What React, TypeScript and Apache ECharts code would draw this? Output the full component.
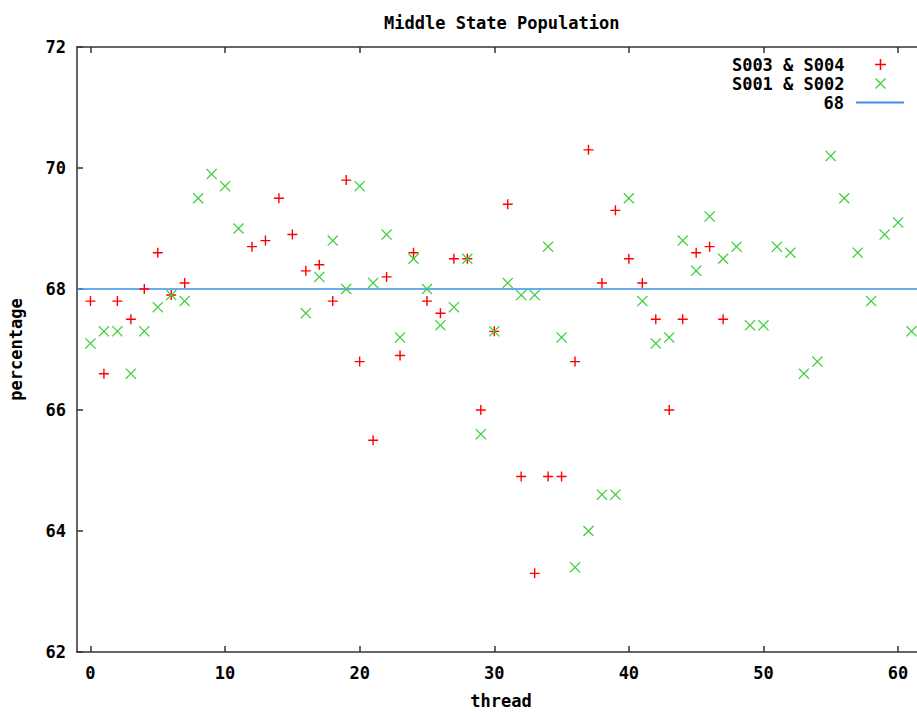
import React, { useEffect, useRef } from "react";
import * as echarts from "echarts";

const chartTitle = "Middle State Population";
const xAxisName = "thread";
const yAxisName = "percentage";
const xTickValues = [0, 10, 20, 30, 40, 50, 60];
const xRange = [-1, 62];
const yRange = [62, 72];

const redName = "S003 & S004";
const greenName = "S001 & S002";
const refName = "68";
const refValue = 68;

// index = thread number; null = no point drawn
const redValues: (number | null)[] = [
  67.8, 66.6, 67.8, 67.5, 68.0, 68.6, 67.9, 68.1, null, null,
  null, null, 68.7, 68.8, 69.5, 68.9, 68.3, 68.4, 67.8, 69.8,
  66.8, 65.5, 68.2, 66.9, 68.6, 67.8, 67.6, 68.5, 68.5, 66.0,
  67.3, 69.4, 64.9, 63.3, 64.9, 64.9, 66.8, 70.3, 68.1, 69.3,
  68.5, 68.1, 67.5, 66.0, 67.5, 68.6, 68.7, 67.5,
];

const greenValues: (number | null)[] = [
  67.1, 67.3, 67.3, 66.6, 67.3, 67.7, 67.9, 67.8, 69.5, 69.9,
  69.7, 69.0, null, null, null, null, 67.6, 68.2, 68.8, 68.0,
  69.7, 68.1, 68.9, 67.2, 68.5, 68.0, 67.4, 67.7, 68.5, 65.6,
  67.3, 68.1, 67.9, 67.9, 68.7, 67.2, 63.4, 64.0, 64.6, 64.6,
  69.5, 67.8, 67.1, 67.2, 68.8, 68.3, 69.2, 68.5, 68.7, 67.4,
  67.4, 68.7, 68.6, 66.6, 66.8, 70.2, 69.5, 68.6, 67.8, 68.9,
  69.1, 67.3,
];

const toPairs = (vals: (number | null)[]) =>
  vals
    .map((v, i) => (v == null ? null : [i, v]))
    .filter((p) => p !== null) as number[][];

const PLUS =
  "path://M4.3,0L5.7,0L5.7,4.3L10,4.3L10,5.7L5.7,5.7L5.7,10L4.3,10L4.3,5.7L0,5.7L0,4.3L4.3,4.3Z";
const D = 0.8;
const CROSS = `path://M${D},0L5,${5 - D}L${10 - D},0L10,${D}L${5 + D},5L10,${10 - D}L${10 - D},10L5,${5 + D}L${D},10L0,${10 - D}L${5 - D},5L0,${D}Z`;

const FONT = "'DejaVu Sans Mono', 'Liberation Mono', monospace";
const axisColor = "#333";
const blue = "#3a90e8";

export default function App() {
  const ref = useRef<HTMLDivElement>(null);
  useEffect(() => {
    if (!ref.current) return;
    const chart = echarts.init(ref.current, undefined, { renderer: "svg" });
    const textBase = { fontFamily: FONT, fontWeight: "bold" as const, fontSize: 17, color: "#000" };
    const legendCommon = {
      orient: "horizontal" as const,
      align: "right" as const,
      padding: 0,
      itemWidth: 48,
      itemHeight: 11,
      textStyle: { ...textBase, padding: [0, 7, 0, 0] },
    };
    const xCommon = {
      type: "value" as const,
      min: xRange[0],
      max: xRange[1],
      splitLine: { show: false },
      axisLine: { show: true, onZero: false, lineStyle: { color: axisColor, width: 1.5 } },
      axisTick: {
        show: true,
        inside: true,
        length: 6,
        customValues: xTickValues,
        lineStyle: { color: axisColor, width: 1.5 },
      },
    };
    chart.setOption({
      animation: false,
      backgroundColor: "#fff",
      title: {
        text: chartTitle,
        left: 379,
        top: 9,
        textStyle: { ...textBase, fontSize: 17 },
      },
      legend: [
        { ...legendCommon, right: 31, top: 56, data: [redName] },
        { ...legendCommon, right: 31, top: 75, data: [greenName] },
        {
          ...legendCommon,
          right: 13,
          top: 94,
          itemHeight: 2,
          data: [{ name: refName, icon: "rect" }],
        },
      ],
      grid: {
        left: 77,
        top: 47,
        width: 848,
        bottom: 61,
        containLabel: false,
        outerBoundsMode: "none",
      },
      xAxis: [
        {
          ...xCommon,
          position: "bottom",
          name: xAxisName,
          nameLocation: "middle",
          nameGap: 40,
          nameMoveOverlap: false,
          nameTextStyle: textBase,
          axisLabel: { ...textBase, margin: 12, customValues: xTickValues },
        },
        {
          ...xCommon,
          position: "top",
          axisLabel: { show: false },
        },
      ],
      yAxis: {
        type: "value",
        min: yRange[0],
        max: yRange[1],
        interval: 2,
        name: yAxisName,
        nameLocation: "middle",
        nameRotate: 90,
        nameGap: 53,
        nameMoveOverlap: false,
        nameTextStyle: textBase,
        splitLine: { show: false },
        axisLine: { show: true, onZero: false, lineStyle: { color: axisColor, width: 1.5 } },
        axisTick: { show: true, inside: true, length: 6, lineStyle: { color: axisColor, width: 1.5 } },
        axisLabel: { ...textBase, margin: 11 },
      },
      series: [
        {
          name: redName,
          type: "scatter",
          symbol: PLUS,
          symbolSize: 10,
          itemStyle: { color: "#ff0000", opacity: 1 },
          data: toPairs(redValues),
          z: 3,
        },
        {
          name: greenName,
          type: "scatter",
          symbol: CROSS,
          symbolSize: 11,
          itemStyle: { color: "#3fcf3f", opacity: 1 },
          data: toPairs(greenValues),
          z: 4,
        },
        {
          name: refName,
          type: "line",
          symbol: "none",
          lineStyle: { color: blue, width: 1.5 },
          itemStyle: { color: blue },
          data: [
            [xRange[0], refValue],
            [xRange[1], refValue],
          ],
          z: 2,
        },
      ],
    });
    return () => chart.dispose();
  }, []);
  return (
    <div
      ref={ref}
      style={{ position: "absolute", left: 0, top: 0, width: 917, height: 713 }}
    />
  );
}
